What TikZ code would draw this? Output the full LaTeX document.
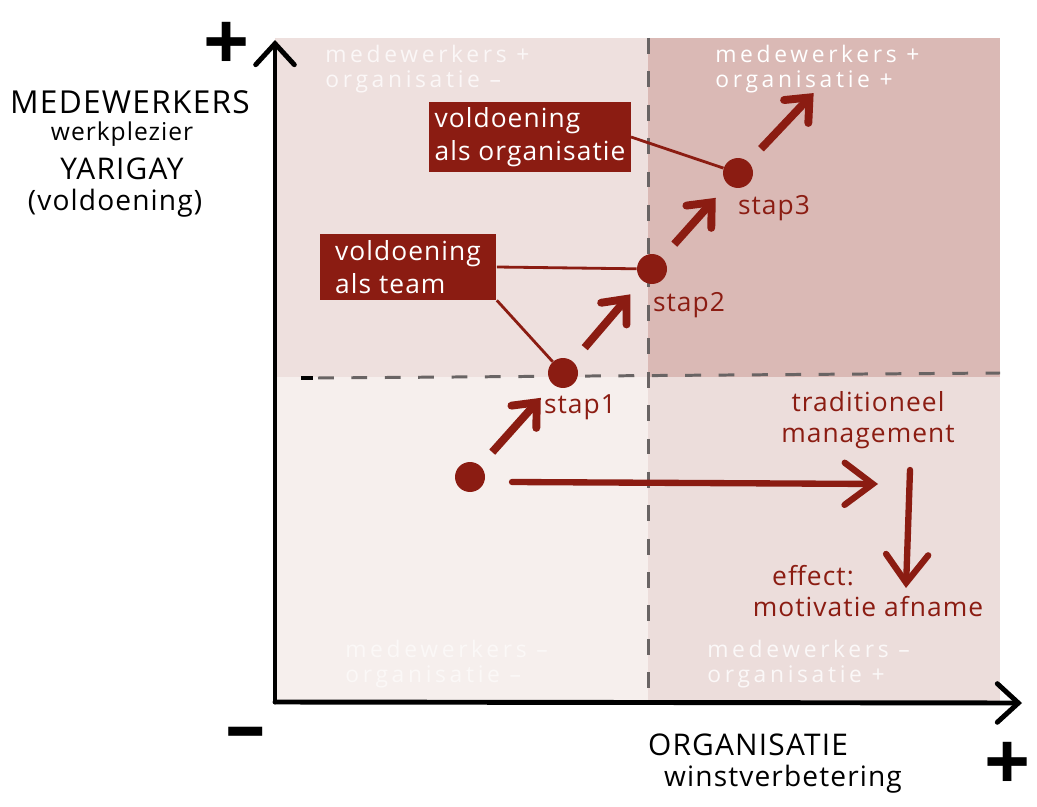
\documentclass[tikz,border=0pt]{standalone}
\usepackage{fontspec}
\setmainfont{Open Sans}
\newfontfamily\hand[LetterSpace=4]{Open Sans}
\newfontfamily\quadhand[LetterSpace=16]{Open Sans}
\usetikzlibrary{arrows.meta,positioning}

\definecolor{darkred}{RGB}{139,28,18}
\definecolor{quadtl}{RGB}{238,224,222}
\definecolor{quadtr}{RGB}{218,185,181}
\definecolor{quadbl}{RGB}{246,239,237}
\definecolor{quadbr}{RGB}{236,221,219}
\definecolor{dashgray}{RGB}{105,100,100}

\tikzset{
    dot/.style={circle, fill=darkred, inner sep=0pt, minimum size=0.6cm, draw=none},
    redbox/.style={fill=darkred, text=white, align=left, inner sep=3pt,
        font=\hand\fontsize{15}{19}\selectfont},
    redtext/.style={text=darkred, align=center, inner sep=1pt,
        font=\hand\fontsize{15}{18}\selectfont},
    quadtext/.style={text=white, align=left, anchor=north west, inner sep=0pt,
        font=\quadhand\fontsize{13}{14}\selectfont},
    axistext/.style={text=black, inner sep=0pt},
    signtext/.style={text=black, inner sep=0pt, font=\bfseries\fontsize{46}{46}\selectfont},
    axisline/.style={line width=2.8pt, line cap=round, -{Straight Barb[length=12pt, width=22pt, line cap=round]}},
    steparrow/.style={darkred, line width=4.5pt, shorten >=0.36cm, shorten <=0.36cm,
        -{Straight Barb[length=11pt, width=19pt, line cap=round]}},
    longarrow/.style={darkred, line width=3.6pt, line cap=round,
        -{Straight Barb[length=16pt, width=24pt, line cap=round]}},
    linkline/.style={darkred, line width=1.6pt},
    midline/.style={dashgray, line width=1.7pt, dash pattern=on 9pt off 10pt},
}

\begin{document}
\begin{tikzpicture}[x=0.02cm, y=-0.02cm]
    \useasboundingbox (0,0) rectangle (1037,807);
    \fill[white] (0,0) rectangle (1037,807);

    % quadrants
    \fill[quadtl] (275,38) rectangle (648,377);
    \fill[quadtr] (648,38) rectangle (1000,377);
    \fill[quadbl] (275,377) rectangle (648,702);
    \fill[quadbr] (648,377) rectangle (1000,702);

    \node[quadtext, text=white!75!quadtl] (qtl) at (325,45) {medewerkers +\\organisatie –};
    \node[quadtext] (qtr) at (715,45) {medewerkers +\\organisatie +};
    \node[quadtext, text=white!55!quadbl] (qbl) at (345,640) {medewerkers –\\organisatie –};
    \node[quadtext, text=white!80!quadbr] (qbr) at (707,640) {medewerkers –\\organisatie +};

    % middle lines
    \coordinate (vtop) at (648,38);
    \coordinate (vbot) at (648,700);
    \coordinate (hleft) at (318,378);
    \coordinate (hright) at (1000,373);
    \draw[midline] (vtop) -- (vbot);
    \draw[midline] (hleft) -- (hright);
    \coordinate (tickl) at (301,378);
    \coordinate (tickr) at (313,378);
    \draw[line width=2.8pt] (tickl) -- (tickr);

    % axes
    \coordinate (origin) at (275,702);
    \coordinate (ytop) at (275,40);
    \coordinate (xend) at (1022,703);
    \draw[axisline] (origin) -- (ytop);
    \draw[axisline] (origin) -- (xend);

    \node[signtext] (yplus) at (227,46) {+};
    \node[signtext] (xminus) at (246,740) {–};
    \node[signtext] (xplus) at (1008,766) {+};

    \node[axistext, font=\hand\fontsize{18}{18}\selectfont] (ylab1) at (130,102) {MEDEWERKERS};
    \node[axistext, font=\hand\fontsize{14}{14}\selectfont] (ylab2) at (122,134) {werkplezier};
    \node[axistext, font=\hand\fontsize{17}{17}\selectfont] (ylab3) at (122,169) {YARIGAY};
    \node[axistext, font=\hand\fontsize{16}{16}\selectfont] (ylab4) at (115,203) {(voldoening)};

    \node[axistext, font=\hand\fontsize{17}{17}\selectfont] (xlab1) at (748,745) {ORGANISATIE};
    \node[axistext, font=\hand\fontsize{16}{16}\selectfont] (xlab2) at (783,779) {winstverbetering};

    % steps
    \node[dot] (start) at (470,477) {};
    \node[dot] (s1) at (563,373) {};
    \node[dot] (s2) at (652,269) {};
    \node[dot] (s3) at (738,173) {};
    \coordinate (s4) at (826,80);

    \draw[steparrow] (start) -- (s1);
    \draw[steparrow] (s1) -- (s2);
    \draw[steparrow] (s2) -- (s3);
    \draw[steparrow] (s3) -- (s4);

    \node[redtext] (stap1) at (580,407) {stap1};
    \node[redtext] (stap2) at (689,305) {stap2};
    \node[redtext] (stap3) at (774,208) {stap3};

    % boxes
    \node[redbox, minimum width=3.74cm, minimum height=1.38cm] (orgbox) at (530,137) {voldoening\\als organisatie};
    \node[redbox, minimum width=3.54cm, minimum height=1.32cm] (teambox) at (408,267) {voldoening\\als team};

    \draw[linkline] (orgbox.east) -- (s3);
    \draw[linkline] (teambox.east) -- (s2);
    \draw[linkline] (teambox.south east) -- (s1);

    % traditional management
    \coordinate (tmend) at (878,484);
    \coordinate (tmstart) at (512,482);
    \draw[longarrow] (tmstart) -- (tmend);
    \node[redtext] (trad) at (868,420) {traditioneel\\management};
    \coordinate (downtop) at (910,470);
    \coordinate (downbot) at (906,588);
    \draw[longarrow] (downtop) -- (downbot);
    \node[redtext] (effect) at (813,576) {effect:};
    \node[redtext] (afname) at (868,607) {motivatie afname};
\end{tikzpicture}
\end{document}
